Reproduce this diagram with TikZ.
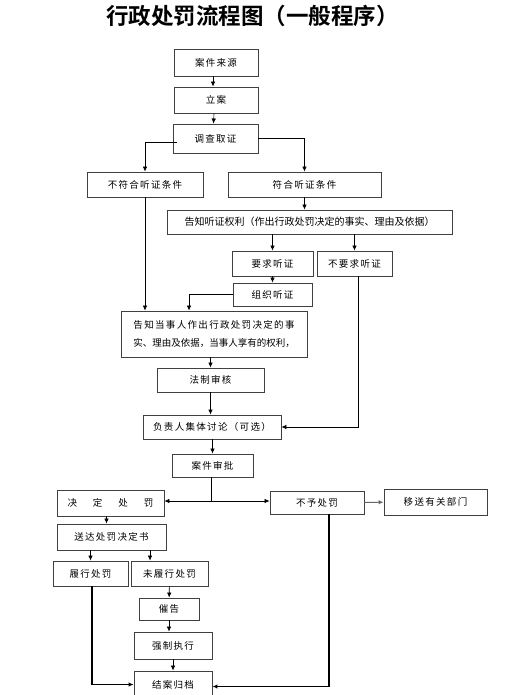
\documentclass[tikz,border=0pt]{standalone}
\usepackage{fontspec}
\newfontfamily\cjk{Noto Sans CJK SC}
\newfontfamily\cjkspaced[LetterSpace=14]{Noto Sans CJK SC}
\newfontfamily\cjkbold[BoldFont={Noto Sans CJK SC Bold}]{Noto Sans CJK SC}
\usepackage{tikz}
\usetikzlibrary{positioning, calc, arrows.meta}
\tikzset{
	defaultbox/.style={
			rectangle,
			draw=black!75,
			line width=0.9pt,
			fill=white,
			inner sep=0pt,
			font=\cjkspaced\fontsize{9.5}{18}\selectfont
		},
	plainbox/.style={
			defaultbox,
			font=\cjk\fontsize{10}{12}\selectfont
		},
	titlenode/.style={
			inner sep=0pt,
			font=\cjkbold\bfseries\fontsize{22.5}{26}\selectfont
		},
	flowline/.style={
			line width=0.6pt,
			draw=black
		},
	heavyline/.style={
			line width=1.6pt,
			draw=black
		}
}

\begin{document}
\begin{tikzpicture}[x=1pt, y=-1pt, >={Latex[length=5pt,width=4.5pt]}]
\useasboundingbox (0,0) rectangle (508,695);

\node[titlenode] (title) at (252.5,16) {行政处罚流程图（一般程序）};

\node[defaultbox, minimum width=84pt, minimum height=27pt] (n1) at (216,62.5) {案件来源};
\node[defaultbox, minimum width=84pt, minimum height=26pt] (n2) at (216,100) {立案};
\node[defaultbox, minimum width=85pt, minimum height=29pt] (n3) at (215.5,138.5) {调查取证};
\node[defaultbox, minimum width=116pt, minimum height=25pt] (n4) at (145,184.5) {不符合听证条件};
\node[defaultbox, minimum width=153pt, minimum height=25pt] (n5) at (304.5,184.5) {符合听证条件};
\node[plainbox, minimum width=285pt, minimum height=24pt] (n6) at (309.5,222) {告知听证权利（作出行政处罚决定的事实、理由及依据）};
\node[defaultbox, minimum width=81pt, minimum height=25pt] (n7) at (272.5,263.5) {要求听证};
\node[defaultbox, minimum width=75pt, minimum height=25pt] (n8) at (354.5,263.5) {不要求听证};
\node[defaultbox, minimum width=79pt, minimum height=23pt] (n9) at (272.5,294.5) {组织听证};
\node[defaultbox, minimum width=186pt, minimum height=46pt, align=center] (n10) at (214,334)
	{告知当事人作出行政处罚决定的事\\{\cjk 实、理由及依据，当事人享有的权利，}};
\node[defaultbox, minimum width=107pt, minimum height=24pt] (n11) at (210.5,380) {法制审核};
\node[defaultbox, minimum width=138pt, minimum height=24pt] (n12) at (212,427) {负责人集体讨论（可选）};
\node[defaultbox, minimum width=81pt, minimum height=23pt] (n13) at (212.5,465.5) {案件审批};
\node[defaultbox, minimum width=107pt, minimum height=26pt] (n14) at (110.5,503) {决\hspace{16pt}定\hspace{16pt}处\hspace{16pt}罚};
\node[defaultbox, minimum width=94pt, minimum height=23pt] (n15) at (317,502.5) {不予处罚};
\node[defaultbox, minimum width=103pt, minimum height=26pt] (n16) at (435.5,502) {移送有关部门};
\node[defaultbox, minimum width=109pt, minimum height=26pt] (n17) at (111.5,537) {送达处罚决定书\hspace{8pt}};
\node[defaultbox, minimum width=75pt, minimum height=25pt] (n18) at (90.5,573.5) {履行处罚};
\node[defaultbox, minimum width=77pt, minimum height=25pt] (n19) at (169.5,573.5) {未履行处罚};
\node[defaultbox, minimum width=60pt, minimum height=22pt] (n20) at (169,609) {催告};
\node[defaultbox, minimum width=78pt, minimum height=27pt] (n21) at (173,645.5) {强制执行};
\node[defaultbox, minimum width=78pt, minimum height=27pt] (n22) at (173,684.5) {结案归档};

\coordinate (fork) at (211,501);
\path (n17.south) ++(38.5,0) coordinate (n17r);
\path (n10.north) ++(-25,0) coordinate (n10l);

\draw[flowline, ->] ([xshift=-3pt]n1.south) -- ([xshift=-3pt]n2.north);
\draw[flowline, ->] ([xshift=-2pt]n2.south) -- ([xshift=-2pt]n3.north);
\draw[flowline, ->] ([xshift=4pt, yshift=-4pt]n3.west) -| (n4.north);
\draw[flowline, ->] (n3.east) -| (n5.north);
\draw[flowline, ->] (n5.south) -- (n5.south |- n6.north);

\draw[flowline, ->] (n6.south -| n7) -- (n7.north);
\draw[flowline, ->] (n6.south -| n8) -- (n8.north);
\draw[flowline, ->] (n4.south) -- (n4.south |- n10.north);
\draw[flowline, ->] (n7) -- (n9);
\draw[flowline, ->] (n9.west) -| (n10l);
\draw[flowline, ->] ([xshift=4pt]n8.south) |- (n12.east);

\draw[flowline, ->] (n11 |- n10.south) -- (n11.north);
\draw[flowline, ->] (n11.south) -- (n11.south |- n12.north);
\draw[flowline, ->] (n13 |- n12.south) -- (n13.north);

\draw[flowline] (n13.south -| fork) -- (fork);
\draw[flowline, ->] (fork) -- (fork -| n14.east);
\draw[flowline, ->] (fork) -- (fork -| n15.west);
\draw[flowline, draw=black!60, line width=1pt, ->] (n15) -- (n16);

\draw[flowline, ->] ([xshift=-4pt]n14.south) -- ([xshift=-4pt]n14.south |- n17.north);
\draw[flowline, ->] (n18 |- n17.south) -- (n18.north);
\draw[flowline, ->] (n17r) -- (n17r |- n19.north);
\draw[flowline, ->] (n19) -- (n20);
\draw[flowline, ->] (n20.south) -- (n20.south |- n21.north);
\draw[flowline, ->] (n21) -- (n22);

\draw[heavyline, ->] ([xshift=1.5pt]n18.south) |- (n22.west);
\draw[heavyline, ->] ([xshift=12pt]n15.south) |- ([yshift=-2pt]n22.east);
\end{tikzpicture}
\end{document}
